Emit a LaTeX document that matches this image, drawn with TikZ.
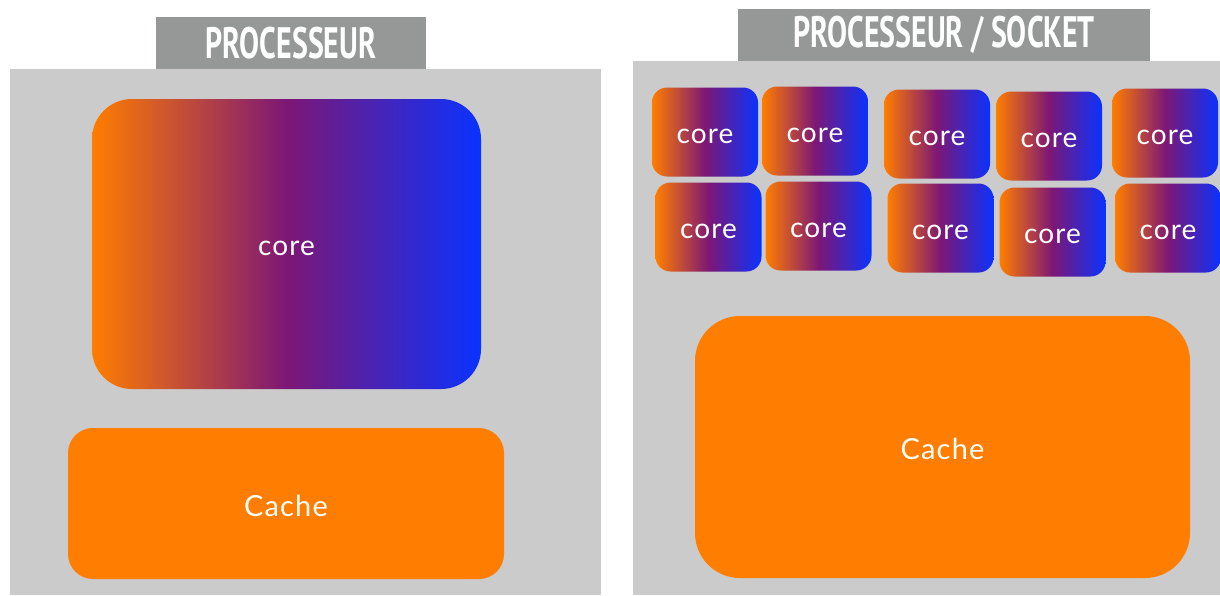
\documentclass[tikz,border=0pt]{standalone}
\usepackage{fontspec}
\setmainfont{Lato}
\newfontfamily\labelfont{Lato}[LetterSpace=4]
\newfontfamily\titlefont{PT Sans Bold}[FakeStretch=0.68]
\definecolor{panelgray}{HTML}{CBCBCB}
\definecolor{titlegray}{HTML}{959897}
\definecolor{cacheorange}{HTML}{FF7D00}
\definecolor{coreorange}{HTML}{FF7D00}
\definecolor{corepurple}{HTML}{7D1775}
\definecolor{coreblue}{HTML}{0A32FF}
\begin{document}
\begin{tikzpicture}[x=1pt, y=-1pt,
    panel/.style ={fill=panelgray, inner sep=0pt},
    heading/.style ={fill=titlegray, text=white, inner sep=0pt,
      font=\titlefont\fontsize{44}{44}\selectfont},
    corebox/.style ={rounded corners=15pt, inner sep=0pt, text=white,
      left color=coreorange, right color=coreblue, middle color=corepurple,
      minimum width=106pt, minimum height=89pt, text height=24pt,
      font=\labelfont\fontsize{28}{28}\selectfont},
    cachebox/.style ={fill=cacheorange, inner sep=0pt, text=white, text height=26pt,
      font=\labelfont\fontsize{29}{29}\selectfont}]
   \useasboundingbox (0,0) rectangle (1220,595);
   % left: one core
   \node[panel, minimum width=591pt, minimum height=526pt] (P1) at (305.5,332) {};
   \node[heading, minimum width=270pt, minimum height=52pt] (T1) at (291,43) {PROCESSEUR};
   \node[corebox, rounded corners=40pt, minimum width=389pt, minimum height=290pt] (C0) at (286.5,244) {core};
   \node[cachebox, rounded corners=25pt, minimum width=436pt, minimum height=151pt] (K1) at (286,503.5) {Cache};
   % right: ten cores
   \node[panel, minimum width=587pt, minimum height=534pt] (P2) at (926.5,328) {};
   \node[heading, minimum width=412pt, minimum height=52pt] (T2) at (944,35) {PROCESSEUR / SOCKET};
   \node[corebox] (C1) at (705,132) {core};
   \node[corebox] (C2) at (815,131) {core};
   \node[corebox] (C3) at (937,134) {core};
   \node[corebox] (C4) at (1049,136) {core};
   \node[corebox] (C5) at (1165,133) {core};
   \node[corebox] (C6) at (708.5,227) {core};
   \node[corebox] (C7) at (818.5,226) {core};
   \node[corebox] (C8) at (940.5,228) {core};
   \node[corebox] (C9) at (1052.5,232) {core};
   \node[corebox] (C10) at (1168,228) {core};
   \node[cachebox, rounded corners=45pt, minimum width=495pt, minimum height=262pt] (K2) at (942.5,447) {Cache};
\end{tikzpicture}
\end{document}
